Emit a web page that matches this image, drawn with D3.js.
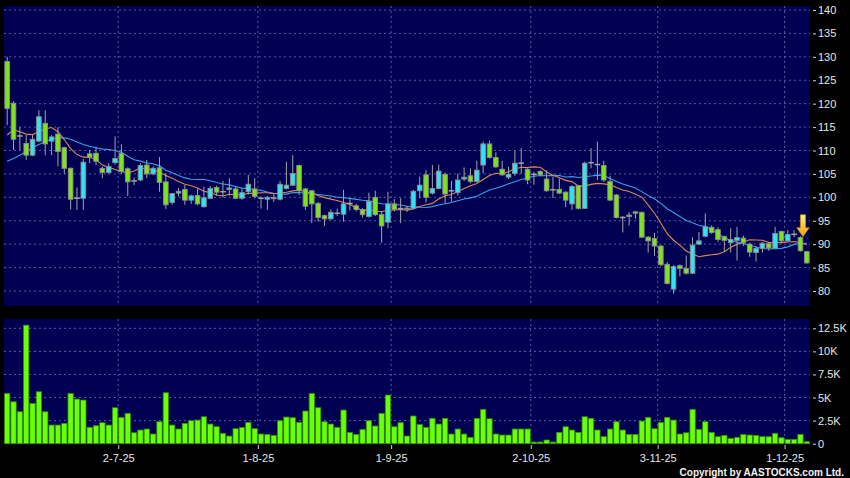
<!DOCTYPE html>
<html>
<head>
<meta charset="utf-8">
<script src="https://cdn.jsdelivr.net/npm/d3@7"></script>
<style>
    body { margin: 0; background: #000; }
    svg { display: block; font-family: 'Liberation Sans', Arial, sans-serif; }
    .axis text { fill: #e6e6e6; font-size: 11px; }
    .axis line { stroke: #d0d0d0; }
    .axis path { display: none; }
</style>
</head>
<body>
<div id="chart"></div>
<script>
// daily prices (127 sessions)
const openPrices = [
    129.0, 120.1, 113.1, 111.5, 109.0, 112.0, 115.8, 112.0, 113.5, 110.6,
    106.2, 99.8, 99.8, 109.3, 109.4, 106.2, 105.3, 107.4, 109.4, 106.1,
    103.5, 103.7, 106.9, 105.0, 106.3, 103.3, 98.9, 100.9, 101.7, 99.4,
    100.4, 98.0, 99.8, 102.1, 101.2, 101.7, 101.8, 99.8, 101.2, 101.8,
    99.8, 99.6, 100.0, 99.6, 101.9, 102.6, 106.8, 101.8, 101.4, 98.7,
    96.1, 95.4, 96.6, 96.4, 98.7, 98.2, 97.4, 95.9, 100.0, 96.3,
    94.7, 98.6, 97.6, 97.7, 97.6, 101.4, 104.8, 100.9, 101.9, 104.9,
    101.4, 101.0, 103.9, 104.6, 103.4, 106.9, 111.4, 108.5, 106.0, 104.3,
    105.1, 107.3, 106.0, 104.9, 105.5, 103.9, 101.6, 101.7, 101.1, 98.6,
    102.5, 97.65, 107.3, 107.0, 106.8, 103.4, 100.5, 95.7, 95.9, 96.9,
    96.8, 91.5, 91.2, 89.6, 85.7, 80.4, 85.4, 84.8, 83.8, 90.0,
    91.7, 93.6, 93.1, 91.6, 90.3, 90.8, 91.3, 90.0, 88.2, 89.1,
    90.1, 89.1, 92.7, 90.7, 92.1, 91.4, 88.4
];
const highPrices = [
    130.0, 120.5, 115.0, 113.3, 113.3, 118.6, 118.6, 113.3, 115.0, 110.8,
    106.4, 102.1, 108.2, 110.1, 110.8, 106.5, 107.3, 113.0, 111.3, 106.4,
    104.2, 107.3, 108.0, 106.6, 108.6, 105.1, 100.9, 102.0, 102.6, 100.6,
    101.9, 102.3, 102.4, 102.5, 103.5, 104.1, 102.4, 101.9, 104.8, 104.1,
    100.2, 100.3, 100.7, 103.5, 107.6, 109.0, 107.0, 102.0, 101.6, 99.0,
    96.3, 97.4, 97.6, 101.6, 99.6, 98.6, 97.7, 101.0, 101.4, 97.0,
    101.2, 99.6, 99.8, 98.2, 101.6, 104.4, 105.8, 106.9, 107.0, 105.3,
    103.5, 105.1, 106.4, 106.2, 107.8, 111.9, 112.1, 109.6, 107.8, 106.5,
    109.9, 110.5, 106.2, 105.4, 105.8, 105.8, 104.4, 104.0, 101.3, 102.6,
    102.7, 107.6, 110.5, 111.9, 107.8, 104.6, 100.7, 96.0, 96.8, 97.1,
    97.0, 91.7, 92.4, 89.8, 86.2, 85.5, 85.7, 87.6, 91.5, 92.6,
    96.6, 94.0, 93.6, 91.8, 93.4, 93.7, 91.8, 90.3, 89.6, 90.4,
    90.4, 93.7, 92.9, 93.0, 93.0, 91.7, 88.6
];
const lowPrices = [
    115.4, 110.1, 110.1, 108.0, 108.8, 111.8, 109.0, 109.0, 106.6, 105.0,
    97.4, 97.3, 97.3, 107.3, 106.9, 104.1, 105.0, 107.0, 105.0, 100.3,
    102.6, 103.5, 104.1, 104.7, 101.2, 97.5, 98.4, 100.2, 98.4, 98.6,
    98.3, 97.8, 99.6, 100.3, 100.0, 100.4, 99.6, 99.5, 100.6, 99.8,
    97.6, 97.3, 99.0, 99.3, 101.7, 102.4, 100.5, 97.3, 94.5, 94.8,
    93.9, 95.2, 96.0, 94.8, 97.2, 97.0, 95.7, 95.7, 96.0, 90.3,
    93.4, 97.0, 94.5, 96.9, 97.4, 99.8, 98.9, 100.6, 101.7, 98.7,
    99.1, 100.4, 103.5, 103.0, 103.2, 105.1, 108.3, 106.3, 104.6, 103.9,
    104.6, 105.0, 102.8, 102.7, 104.5, 101.2, 99.8, 100.7, 97.9, 97.3,
    97.4, 97.5, 106.2, 103.7, 103.3, 99.2, 95.5, 92.5, 94.0, 95.4,
    91.3, 88.2, 87.5, 85.3, 81.4, 79.4, 83.1, 83.5, 83.6, 89.8,
    91.5, 92.2, 90.5, 88.4, 88.2, 86.5, 89.6, 87.3, 86.3, 88.2,
    88.6, 89.0, 90.3, 90.5, 91.5, 88.4, 85.8
];
const closePrices = [
    119.0, 112.4, 113.1, 109.0, 112.4, 117.2, 111.4, 112.9, 109.8, 106.2,
    99.6, 99.8, 107.5, 108.6, 107.7, 105.3, 106.6, 108.3, 105.5, 103.3,
    103.5, 106.8, 105.0, 106.2, 103.2, 98.4, 100.8, 101.3, 99.4, 100.3,
    98.6, 99.9, 101.9, 101.1, 101.2, 102.0, 99.8, 101.0, 102.8, 100.2,
    99.8, 100.0, 99.7, 102.8, 102.6, 105.1, 101.4, 98.1, 98.6, 95.7,
    95.4, 96.8, 96.6, 98.6, 98.7, 97.4, 96.3, 99.1, 96.3, 93.9,
    98.6, 97.4, 97.6, 97.5, 101.3, 102.6, 100.0, 101.9, 105.6, 100.7,
    101.4, 103.7, 104.3, 103.4, 105.8, 111.4, 108.5, 106.5, 104.8, 104.9,
    107.3, 107.3, 103.7, 104.9, 104.8, 101.4, 101.6, 100.9, 99.4, 102.3,
    97.65, 107.3, 107.4, 107.0, 103.7, 99.4, 95.7, 95.7, 96.2, 96.6,
    91.5, 90.7, 89.6, 85.6, 81.6, 85.2, 84.8, 83.8, 89.8, 90.7,
    93.7, 92.5, 91.0, 90.8, 91.0, 91.4, 90.3, 88.3, 89.1, 90.2,
    89.2, 92.3, 90.7, 92.1, 92.1, 88.6, 86.0
];
const volumes = [
    5450, 4545, 3460, 12840, 4370, 5625, 3460, 2020, 2020, 2205,
    5450, 4835, 4730, 1775, 1950, 2275, 2020, 3895, 2855, 3290,
    1190, 1480, 1590, 1050, 2380, 5520, 2020, 1590, 2205, 2490,
    2560, 2920, 2130, 1840, 1125, 830, 1625, 1775, 2315, 1625,
    1050, 1010, 905, 2490, 2890, 2815, 2315, 3540, 5450, 3895,
    2380, 2130, 1775, 3645, 1230, 1010, 1555, 2490, 1915, 3290,
    5270, 1840, 2275, 830, 3000, 2095, 1775, 2750, 2130, 2750,
    1050, 1590, 1050, 690, 2750, 3720, 2700, 1050, 940, 940,
    1590, 1590, 1590, 180, 180, 400, 180, 1230, 1840, 1480,
    1230, 2920, 2750, 1480, 760, 1590, 2380, 1480, 1010, 1010,
    2455, 2855, 1625, 2315, 2855, 2560, 1050, 1190, 3720, 1555,
    2380, 1230, 760, 905, 580, 690, 1010, 940, 905, 760,
    760, 1125, 650, 470, 470, 1010, 215
];

// moving average values at the left edge (their window starts before the chart)
const ma10Lead = [113.3, 114.4, 114.0, 113.5, 113.4, 114.0, 114.6, 114.9, 114.0];
const ma20Lead = [107.7, 108.3, 109.0, 109.8, 110.6, 111.3, 111.9, 112.4, 112.7, 112.7,
    112.4, 111.8, 111.3, 110.9, 110.6, 110.3, 110.2, 110.0, 109.6];

// axis ticks
const dateTickIndex = [18, 40, 61, 83, 103, 123];
const dateTickLabels = ['2-7-25', '1-8-25', '1-9-25', '2-10-25', '3-11-25', '1-12-25'];
const priceTicks = [80, 85, 90, 95, 100, 105, 110, 115, 120, 125, 130, 135, 140];
const volumeTicks = [0, 2500, 5000, 7500, 10000, 12500];
const volumeTickLabels = ['0', '2.5K', '5K', '7.5K', '10K', '12.5K'];
const arrowIndex = 125;

class CandleChart {

    constructor(_config) {
        this.config = {
            parentElement: _config.parentElement,
            containerWidth: 850,
            containerHeight: 478,
            plotLeft: 4,
            plotRight: 810,
            priceTop: 6,
            priceBottom: 306,
            volumeTop: 319,
            volumeBottom: 444
        }
        this.initVis();
    }

    initVis() {
        let vis = this;
        let c = vis.config;

        vis.n = closePrices.length;

        // one slot per session
        vis.xScale = d3.scaleLinear()
            .domain([0, vis.n])
            .range([c.plotLeft, c.plotRight]);
        vis.step = vis.xScale(1) - vis.xScale(0);

        vis.yPrice = d3.scaleLinear()
            .domain([80, 140])
            .range([291, 10]);

        vis.yVolume = d3.scaleLinear()
            .domain([0, 12500])
            .range([443.7, 328.3]);

        vis.svg = d3.select(c.parentElement).append('svg')
            .attr('width', c.containerWidth)
            .attr('height', c.containerHeight);

        vis.svg.append('rect')
            .attr('width', c.containerWidth)
            .attr('height', c.containerHeight)
            .attr('fill', '#000');

        // panels
        vis.svg.append('rect')
            .attr('x', c.plotLeft).attr('y', c.priceTop)
            .attr('width', c.plotRight - c.plotLeft)
            .attr('height', c.priceBottom - c.priceTop)
            .attr('fill', '#000052');

        vis.svg.append('rect')
            .attr('x', c.plotLeft).attr('y', c.volumeTop)
            .attr('width', c.plotRight - c.plotLeft)
            .attr('height', c.volumeBottom - c.volumeTop)
            .attr('fill', '#000052');

        vis.gridG = vis.svg.append('g').attr('class', 'grid');
        vis.volumeG = vis.svg.append('g').attr('id', 'volume-bars');
        vis.lineG = vis.svg.append('g').attr('id', 'averages');
        vis.candleG = vis.svg.append('g').attr('id', 'candles');

        vis.priceAxisG = vis.svg.append('g')
            .attr('class', 'axis')
            .attr('transform', `translate(${c.plotRight + 3},0)`);
        vis.volumeAxisG = vis.svg.append('g')
            .attr('class', 'axis')
            .attr('transform', `translate(${c.plotRight + 3},0)`);
        vis.dateAxisG = vis.svg.append('g')
            .attr('class', 'axis')
            .attr('transform', `translate(0,${c.volumeBottom + 1})`);

        // arrow gradient
        let grad = vis.svg.append('defs').append('linearGradient')
            .attr('id', 'arrow-fill')
            .attr('x1', 0).attr('y1', 0).attr('x2', 0).attr('y2', 1);
        grad.append('stop').attr('offset', '0%').attr('stop-color', '#fff07a');
        grad.append('stop').attr('offset', '100%').attr('stop-color', '#f0a010');
    }

    updateVis() {
        let vis = this;

        vis.data = closePrices.map((close, i) => ({
            i: i,
            open: openPrices[i],
            high: highPrices[i],
            low: lowPrices[i],
            close: close,
            volume: volumes[i]
        }));

        vis.ma10 = movingAverage(closePrices, 10, ma10Lead);
        vis.ma20 = movingAverage(closePrices, 20, ma20Lead);

        vis.xCenter = i => vis.xScale(i + 0.5);

        vis.renderVis();
    }

    renderVis() {
        let vis = this;
        let c = vis.config;
        let gridColor = '#5a5a9e';

        // horizontal grid
        vis.gridG.selectAll('.price-grid')
            .data(priceTicks)
            .join('line')
            .attr('class', 'price-grid')
            .attr('x1', c.plotLeft).attr('x2', c.plotRight)
            .attr('y1', d => vis.yPrice(d)).attr('y2', d => vis.yPrice(d))
            .attr('stroke', gridColor)
            .attr('stroke-dasharray', '2,3');

        vis.gridG.selectAll('.volume-grid')
            .data(volumeTicks.slice(1))
            .join('line')
            .attr('class', 'volume-grid')
            .attr('x1', c.plotLeft).attr('x2', c.plotRight)
            .attr('y1', d => vis.yVolume(d)).attr('y2', d => vis.yVolume(d))
            .attr('stroke', gridColor)
            .attr('stroke-dasharray', '2,3');

        // vertical grid at month starts
        vis.gridG.selectAll('.date-grid-price')
            .data(dateTickIndex)
            .join('line')
            .attr('class', 'date-grid-price')
            .attr('x1', d => vis.xScale(d)).attr('x2', d => vis.xScale(d))
            .attr('y1', c.priceTop).attr('y2', c.priceBottom)
            .attr('stroke', gridColor)
            .attr('stroke-dasharray', '2,3');

        vis.gridG.selectAll('.date-grid-volume')
            .data(dateTickIndex)
            .join('line')
            .attr('class', 'date-grid-volume')
            .attr('x1', d => vis.xScale(d)).attr('x2', d => vis.xScale(d))
            .attr('y1', c.volumeTop).attr('y2', c.volumeBottom)
            .attr('stroke', gridColor)
            .attr('stroke-dasharray', '2,3');

        // volume bars
        vis.volumeG.selectAll('.vol')
            .data(vis.data)
            .join('rect')
            .attr('class', 'vol')
            .attr('x', d => vis.xScale(d.i) + 0.5)
            .attr('width', vis.step - 1)
            .attr('y', d => vis.yVolume(d.volume))
            .attr('height', d => vis.yVolume(0) - vis.yVolume(d.volume))
            .attr('fill', '#6cff0a')
            .attr('stroke', '#2e8c00')
            .attr('stroke-width', 0.8);

        // moving averages
        let line = d3.line()
            .x((d, i) => vis.xCenter(i))
            .y(d => vis.yPrice(d));

        vis.lineG.append('path')
            .attr('d', line(vis.ma20))
            .attr('fill', 'none')
            .attr('stroke', '#3c9ee6')
            .attr('stroke-width', 1.1);

        vis.lineG.append('path')
            .attr('d', line(vis.ma10))
            .attr('fill', 'none')
            .attr('stroke', '#e08552')
            .attr('stroke-width', 1.1);

        // wicks
        vis.candleG.selectAll('.wick')
            .data(vis.data)
            .join('line')
            .attr('class', 'wick')
            .attr('x1', d => vis.xCenter(d.i)).attr('x2', d => vis.xCenter(d.i))
            .attr('y1', d => vis.yPrice(d.high))
            .attr('y2', d => vis.yPrice(d.low))
            .attr('stroke', '#a4a4a4')
            .attr('stroke-width', 1);

        let bodyW = 4.6;
        let isDoji = d => Math.abs(d.close - d.open) < 0.15;

        vis.candleG.selectAll('.body')
            .data(vis.data.filter(d => !isDoji(d)))
            .join('rect')
            .attr('class', 'body')
            .attr('x', d => vis.xCenter(d.i) - bodyW / 2)
            .attr('width', bodyW)
            .attr('y', d => vis.yPrice(Math.max(d.open, d.close)))
            .attr('height', d => Math.abs(vis.yPrice(d.open) - vis.yPrice(d.close)))
            .attr('fill', d => d.close > d.open ? '#33e2f2' : '#7ee21e')
            .attr('stroke', '#8c8c8c')
            .attr('stroke-width', 0.9);

        vis.candleG.selectAll('.doji')
            .data(vis.data.filter(isDoji))
            .join('line')
            .attr('class', 'doji')
            .attr('x1', d => vis.xCenter(d.i) - bodyW / 2 - 0.5)
            .attr('x2', d => vis.xCenter(d.i) + bodyW / 2 + 0.5)
            .attr('y1', d => vis.yPrice(d.close))
            .attr('y2', d => vis.yPrice(d.close))
            .attr('stroke', '#a4a4a4')
            .attr('stroke-width', 1.5);

        // signal arrow over the candle
        let ax = vis.xCenter(arrowIndex) + 2.5;
        let tip = vis.yPrice(highPrices[arrowIndex]) + 0.5;
        let arrowPath = d3.path();
        arrowPath.moveTo(ax - 2.6, tip - 22);
        arrowPath.lineTo(ax + 2.6, tip - 22);
        arrowPath.lineTo(ax + 2.6, tip - 9);
        arrowPath.lineTo(ax + 6.3, tip - 9);
        arrowPath.lineTo(ax, tip);
        arrowPath.lineTo(ax - 6.3, tip - 9);
        arrowPath.lineTo(ax - 2.6, tip - 9);
        arrowPath.closePath();
        vis.candleG.append('path')
            .attr('d', arrowPath.toString())
            .attr('fill', 'url(#arrow-fill)')
            .attr('stroke', '#c98a00')
            .attr('stroke-width', 0.6);

        // axes
        vis.priceAxisG.call(d3.axisRight(vis.yPrice)
            .tickValues(priceTicks)
            .tickSize(3)
            .tickPadding(2));

        vis.volumeAxisG.call(d3.axisRight(vis.yVolume)
            .tickValues(volumeTicks)
            .tickFormat((d, k) => volumeTickLabels[k])
            .tickSize(3)
            .tickPadding(2));

        vis.dateAxisG.call(d3.axisBottom(vis.xScale)
            .tickValues(dateTickIndex)
            .tickFormat((d, k) => dateTickLabels[k])
            .tickSize(4)
            .tickPadding(5));

        vis.svg.append('text')
            .attr('x', 844)
            .attr('y', 476)
            .attr('text-anchor', 'end')
            .attr('fill', '#f2f2f2')
            .attr('font-size', '10px')
            .attr('font-weight', 'bold')
            .text('Copyright by AASTOCKS.com Ltd.');
    }
}

function movingAverage(values, period, lead) {
    return values.map((v, i) => {
        if (i < period - 1) return lead[i];
        return d3.mean(values.slice(i - period + 1, i + 1));
    });
}

let chart = new CandleChart({ parentElement: '#chart' });
chart.updateVis();
</script>
</body>
</html>
